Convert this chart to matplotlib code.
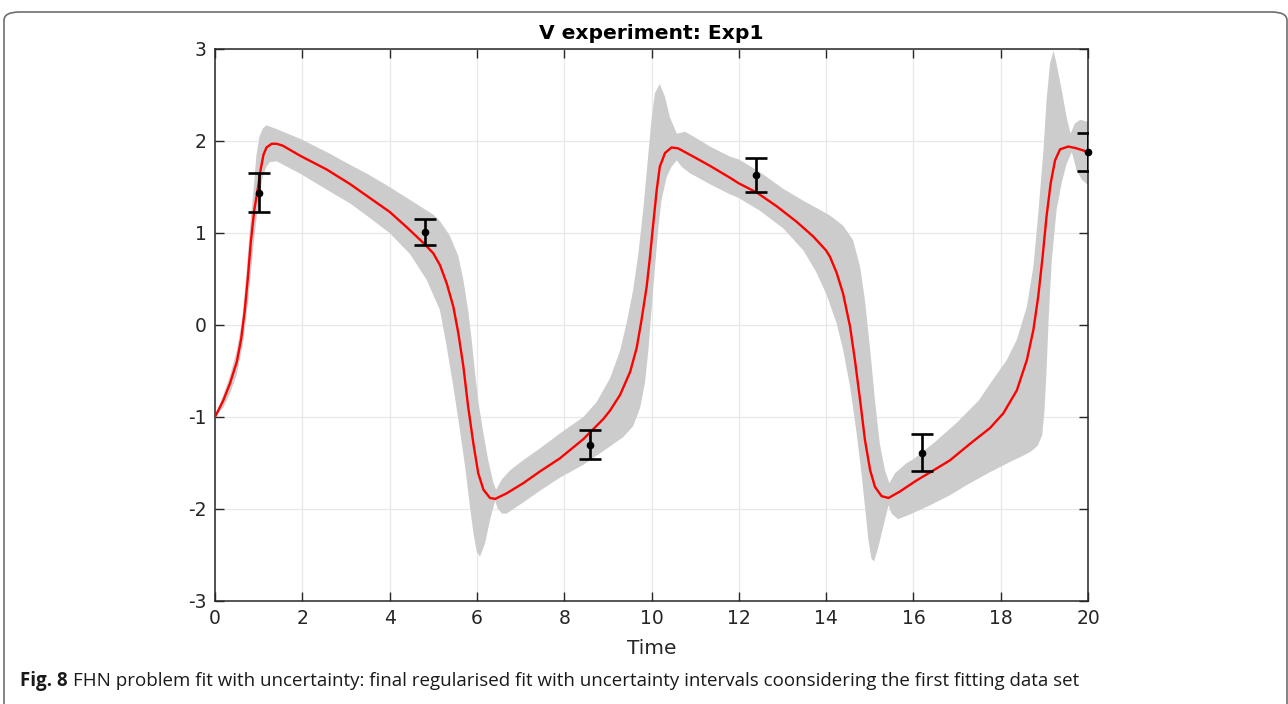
import numpy as np
import matplotlib
matplotlib.use("Agg")
import matplotlib.pyplot as plt
from matplotlib.patches import FancyBboxPatch

# model fit (red line)
fit_t = [0.0, 0.19, 0.34, 0.50, 0.60, 0.68, 0.75, 0.82, 0.90, 0.98, 1.05, 1.11, 1.18,
         1.30, 1.41, 1.55, 1.95, 2.56, 3.10, 3.55, 4.00, 4.40, 4.80, 5.00, 5.155,
         5.31, 5.46, 5.575, 5.69, 5.80, 5.92, 6.03, 6.15, 6.30, 6.42, 6.68, 7.06,
         7.45, 7.90, 8.44, 8.90, 9.05, 9.28, 9.51, 9.66, 9.77, 9.89, 9.965, 10.04,
         10.12, 10.19, 10.31, 10.46, 10.61, 10.96, 11.34, 11.80, 12.00, 12.41, 12.87,
         13.33, 13.71, 14.00, 14.09, 14.24, 14.39, 14.55, 14.66, 14.78, 14.89, 15.01,
         15.12, 15.27, 15.43, 15.69, 16.07, 16.46, 16.84, 17.30, 17.755, 18.06, 18.37,
         18.60, 18.75, 18.86, 18.96, 19.05, 19.145, 19.245, 19.36, 19.55, 19.74, 20.0]
fit_v = [-1.00, -0.82, -0.64, -0.40, -0.15, 0.15, 0.50, 0.90, 1.25, 1.48, 1.70, 1.85, 1.93,
         1.97, 1.97, 1.95, 1.84, 1.69, 1.53, 1.38, 1.23, 1.06, 0.88, 0.78, 0.65,
         0.45, 0.20, -0.09, -0.45, -0.89, -1.29, -1.61, -1.79, -1.88, -1.89, -1.83, -1.72,
         -1.59, -1.45, -1.24, -1.02, -0.93, -0.76, -0.51, -0.25, 0.05, 0.42, 0.74, 1.10,
         1.47, 1.72, 1.87, 1.93, 1.92, 1.83, 1.73, 1.60, 1.54, 1.44, 1.29,
         1.12, 0.96, 0.81, 0.74, 0.57, 0.34, -0.02, -0.38, -0.82, -1.25, -1.58,
         -1.76, -1.86, -1.88, -1.81, -1.69, -1.58, -1.47, -1.29, -1.12, -0.96, -0.71,
         -0.38, -0.05, 0.31, 0.74, 1.18, 1.54, 1.79, 1.91, 1.94, 1.92, 1.88]

# uncertainty band, upper edge
band_up_t = [0.0, 0.19, 0.34, 0.50, 0.62, 0.72, 0.80, 0.88, 0.95, 1.02, 1.10, 1.18, 1.41,
             1.97, 2.60, 3.10, 3.50, 4.00, 4.50, 4.80, 5.00, 5.155, 5.38, 5.575, 5.69, 5.80,
             5.88, 5.96, 6.03, 6.15, 6.26, 6.38, 6.44, 6.57, 6.76, 7.06, 7.45, 7.90,
             8.44, 8.74, 9.05, 9.28, 9.43, 9.58, 9.70, 9.81, 9.93, 10.00, 10.08, 10.19,
             10.31, 10.42, 10.58, 10.77, 11.03, 11.34, 11.80, 12.00, 12.49, 13.02, 13.48,
             13.94, 14.09, 14.39, 14.62, 14.78, 14.89, 15.01, 15.12, 15.23, 15.35, 15.45,
             15.58, 15.85, 16.00, 16.50, 17.00, 17.50, 17.755, 18.14, 18.37, 18.60, 18.75,
             18.86, 18.98, 19.05, 19.13, 19.21, 19.28, 19.40, 19.51, 19.60, 19.70, 19.82, 20.0]
band_up_v = [-1.00, -0.76, -0.56, -0.28, 0.05, 0.55, 1.05, 1.45, 1.85, 2.05, 2.14, 2.17, 2.13,
             2.02, 1.87, 1.74, 1.64, 1.50, 1.35, 1.26, 1.20, 1.13, 0.97, 0.75, 0.49, 0.16,
             -0.16, -0.53, -0.82, -1.18, -1.47, -1.72, -1.79, -1.68, -1.58, -1.47, -1.34, -1.18,
             -1.00, -0.84, -0.58, -0.28, 0.02, 0.38, 0.78, 1.25, 1.87, 2.23, 2.52, 2.62,
             2.48, 2.26, 2.08, 2.10, 2.03, 1.94, 1.83, 1.80, 1.66, 1.48, 1.35,
             1.23, 1.19, 1.08, 0.92, 0.63, 0.27, -0.27, -0.82, -1.29, -1.58, -1.72,
             -1.61, -1.50, -1.46, -1.27, -1.06, -0.82, -0.64, -0.38, -0.16, 0.20, 0.64,
             1.21, 1.90, 2.44, 2.84, 2.98, 2.84, 2.55, 2.26, 2.08, 2.19, 2.23, 2.21]

# uncertainty band, lower edge
band_lo_t = [0.0, 0.19, 0.34, 0.50, 0.65, 0.76, 0.88, 0.95, 1.03, 1.10, 1.18, 1.26, 1.41,
             1.97, 2.60, 3.10, 3.50, 4.00, 4.47, 4.85, 5.155, 5.31, 5.46, 5.61, 5.73,
             5.84, 5.92, 5.995, 6.07, 6.19, 6.30, 6.42, 6.47, 6.57, 6.68, 7.06, 7.45,
             7.90, 8.44, 9.05, 9.35, 9.58, 9.74, 9.85, 9.93, 10.00, 10.08, 10.16, 10.23,
             10.35, 10.46, 10.58, 10.69, 10.88, 11.34, 11.80, 12.00, 12.49, 13.02, 13.48,
             13.78, 14.01, 14.24, 14.39, 14.55, 14.70, 14.81, 14.89, 14.97, 15.04, 15.10,
             15.20, 15.31, 15.43, 15.50, 15.65, 15.92, 16.38, 16.84, 17.22, 17.755, 18.21,
             18.52, 18.71, 18.85, 18.95, 19.00, 19.05, 19.10, 19.17, 19.28, 19.40, 19.51,
             19.63, 19.74, 19.86, 20.0]
band_lo_v = [-1.00, -0.90, -0.75, -0.54, -0.18, 0.25, 0.85, 1.15, 1.45, 1.62, 1.72, 1.77, 1.78,
             1.64, 1.46, 1.32, 1.18, 1.00, 0.77, 0.49, 0.16, -0.24, -0.67, -1.14, -1.54,
             -1.97, -2.26, -2.46, -2.52, -2.37, -2.12, -1.91, -1.99, -2.05, -2.05, -1.93, -1.80,
             -1.66, -1.52, -1.32, -1.22, -1.10, -0.90, -0.63, -0.27, 0.16, 0.63, 1.07, 1.36,
             1.61, 1.72, 1.79, 1.72, 1.65, 1.53, 1.42, 1.38, 1.24, 1.05, 0.81,
             0.57, 0.33, 0.02, -0.27, -0.67, -1.18, -1.61, -1.97, -2.34, -2.54, -2.57,
             -2.41, -2.19, -1.96, -2.05, -2.11, -2.06, -1.96, -1.85, -1.74, -1.60, -1.49,
             -1.42, -1.37, -1.31, -1.20, -0.95, -0.50, 0.08, 0.70, 1.25, 1.55, 1.75,
             1.88, 1.68, 1.58, 1.52]

# data points with error bars
obs_t = [1.0, 4.8, 8.6, 12.4, 16.2, 20.0]
obs_v = [1.44, 1.01, -1.30, 1.63, -1.39, 1.88]
obs_err = [0.21, 0.145, 0.155, 0.185, 0.20, 0.21]

plt.rcParams['font.family'] = ['DejaVu Sans']

fig = plt.figure(figsize=(12.88, 7.04), dpi=100)
ax = fig.add_axes([215 / 1288, 103 / 704, 873 / 1288, 552 / 704])

# band as one polygon: upper edge forwards, lower edge backwards
poly_t = np.concatenate([band_up_t, band_lo_t[::-1]])
poly_v = np.concatenate([band_up_v, band_lo_v[::-1]])
ax.fill(poly_t, poly_v, color='#cccccc', linewidth=0, zorder=2)

ax.plot(fit_t, fit_v, color='#ff0000', linewidth=1.7, zorder=3)

ax.errorbar(obs_t, obs_v, yerr=obs_err, fmt='none', ecolor='black',
            elinewidth=1.9, capsize=8, capthick=1.9, zorder=4)
ax.plot(obs_t, obs_v, 'o', color='black', markersize=4.5, zorder=5, clip_on=False)

ax.set_xlim(0, 20)
ax.set_ylim(-3, 3)
ax.set_xticks(np.arange(0, 21, 2))
ax.set_yticks(np.arange(-3, 4, 1))
ax.set_yticklabels(['-3', '-2', '-1', '0', '1', '2', '3'])

ax.grid(True, color='#e8e8e8', linewidth=0.9)
ax.set_axisbelow(True)
ax.tick_params(direction='in', length=6.5, width=1, colors='#262626',
               labelsize=13.5, top=True, right=True, pad=6)
for s in ax.spines.values():
    s.set_color('#262626')
    s.set_linewidth(1.1)

ax.set_title('V experiment: Exp1', fontsize=14.6, fontweight='bold', pad=7)
ax.set_xlabel('Time', fontsize=14.5, color='#262626', labelpad=8)

# frame round the figure (right and bottom edges run off the picture)
frame = FancyBboxPatch((4 / 1288, -0.2), 1283 / 1288, (698 - 6) / 704 + 0.2,
                       boxstyle='round,pad=0,rounding_size=0.012',
                       transform=fig.transFigure, fill=False,
                       edgecolor='#6e6e6e', linewidth=1.2)
fig.patches.append(frame)

# caption
t1 = fig.text(20 / 1288, 1 - 681 / 704, 'Fig. 8', fontsize=13.5, fontweight='bold',
              family='Open Sans', va='center', color='#1a1a1a')
fig.canvas.draw()
bb = t1.get_window_extent()
fig.text((bb.x1 + 5) / 1288, 1 - 681 / 704,
         'FHN problem fit with uncertainty: final regularised fit with uncertainty '
         'intervals coonsidering the first fitting data set',
         fontsize=13.5, family='Open Sans', va='center', color='#1a1a1a')

fig.savefig('out.png', dpi=100)
